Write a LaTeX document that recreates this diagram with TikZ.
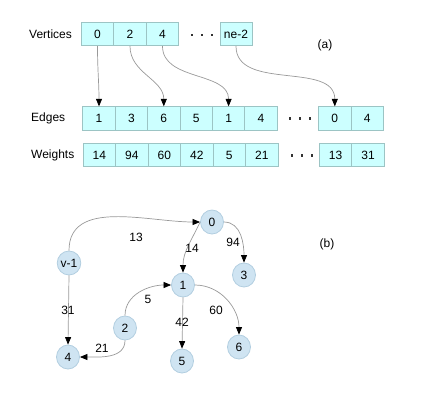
\documentclass[tikz,border=0pt]{standalone}
\usepackage{fontspec}
\setmainfont{Liberation Sans}
\usetikzlibrary{arrows.meta,shapes.geometric}
\definecolor{cellfill}{HTML}{CCFFFF}
\definecolor{celldraw}{HTML}{9CC4C4}
\definecolor{vfill}{HTML}{CFE4F2}
\definecolor{vdraw}{HTML}{B2CEE0}
\definecolor{linegray}{HTML}{999999}
\tikzset{
  cell/.style={draw=celldraw,fill=cellfill,line width=0.8pt,minimum width=32.5pt,minimum height=23.5pt,inner sep=0pt,font=\fontsize{12}{14}\selectfont},
  rowlabel/.style={anchor=west,inner sep=0pt,font=\fontsize{12}{14}\selectfont},
  vert/.style={ellipse,draw=vdraw,fill=vfill,line width=0.8pt,minimum width=23pt,minimum height=24pt,inner sep=0pt,font=\fontsize{12}{14}\selectfont},
  wlabel/.style={inner sep=0pt,font=\fontsize{12}{14}\selectfont},
  conn/.style={draw=linegray,line width=0.7pt,-{Triangle[length=7.5pt,width=6pt,color=black]}},
  dotmark/.style={fill=black!80}
}
\begin{document}
\begin{tikzpicture}[x=1pt,y=-1pt]
\useasboundingbox (0,0) rectangle (425,400);
% row labels
\node[rowlabel] (lv) at (29,34) {Vertices};
\node[rowlabel] (le) at (31,118) {Edges};
\node[rowlabel] (lw) at (31,155) {Weights};
\node[wlabel] (la) at (325,45) {(a)};
\node[wlabel] (lb) at (327,244) {(b)};
% vertices
\node[cell] (v0) at (97.5,34) {0};
\node[cell] (v1) at (130,34) {2};
\node[cell] (v2) at (162.5,34) {4};
\node[cell,minimum width=32pt] (v3) at (236,34) {ne-2};
% edges
\node[cell] (e0) at (99,118.5) {1};
\node[cell] (e1) at (131.4,118.5) {3};
\node[cell] (e2) at (163.8,118.5) {6};
\node[cell] (e3) at (196.2,118.5) {5};
\node[cell] (e4) at (228.6,118.5) {1};
\node[cell] (e5) at (261,118.5) {4};
\node[cell] (e6) at (334.8,118.5) {0};
\node[cell] (e7) at (367.3,118.5) {4};
% weights
\node[cell] (w0) at (99.3,155) {14};
\node[cell] (w1) at (131.8,155) {94};
\node[cell] (w2) at (164.3,155) {60};
\node[cell] (w3) at (196.8,155) {42};
\node[cell] (w4) at (229.3,155) {5};
\node[cell] (w5) at (261.8,155) {21};
\node[cell] (w6) at (335.5,155) {13};
\node[cell] (w7) at (368,155) {31};
% dots
\foreach \x in {192,202,212} \fill[dotmark] (\x-1.2,33.8) rectangle (\x+1.2,36.2);
\foreach \x in {290,300,310} \fill[dotmark] (\x-1.2,117.3) rectangle (\x+1.2,119.7);
\foreach \x in {292,302,312} \fill[dotmark] (\x-1.2,154.3) rectangle (\x+1.2,156.7);
% pointers
\draw[conn] (v0.south) to[out=-90,in=90] (e0.north);
\draw[conn] (v1.south) to[out=-90,in=90] (e2.north);
\draw[conn] (v2.south) to[out=-90,in=90] (e4.north);
\draw[conn] (v3.south) to[out=-90,in=90] (e6.north);
% graph
\node[vert] (n0) at (212,222) {0};
\node[vert] (nv) at (69,263) {v-1};
\node[vert] (n3) at (244,275) {3};
\node[vert] (n1) at (183,285) {1};
\node[vert] (n2) at (125,328) {2};
\node[vert] (n4) at (68,357) {4};
\node[vert] (n5) at (182,361) {5};
\node[vert] (n6) at (239,347) {6};
\draw[conn] (nv.north) to[out=90,in=180] (n0.west);
\draw[conn] (n0.west) to[out=-115,in=90] (n1.north);
\draw[conn] (n0.east) to[out=0,in=90] (n3.north);
\draw[conn] (n2.north) to[out=90,in=180] (n1.west);
\draw[conn] (n1.south) -- (n5.north);
\draw[conn] (n1.east) to[out=0,in=90] (n6.north);
\draw[conn] (nv.south) -- (n4.north);
\draw[conn] (n2.south) to[out=-90,in=0] (n4.east);
% weight labels
\node[wlabel] (t13) at (136,237) {13};
\node[wlabel] (t14) at (192,248) {14};
\node[wlabel] (t94) at (233,242) {94};
\node[wlabel] (t5) at (148,299) {5};
\node[wlabel] (t42) at (182,322) {42};
\node[wlabel] (t60) at (216,310) {60};
\node[wlabel] (t31) at (68,310) {31};
\node[wlabel] (t21) at (102,348) {21};
\end{tikzpicture}
\end{document}
